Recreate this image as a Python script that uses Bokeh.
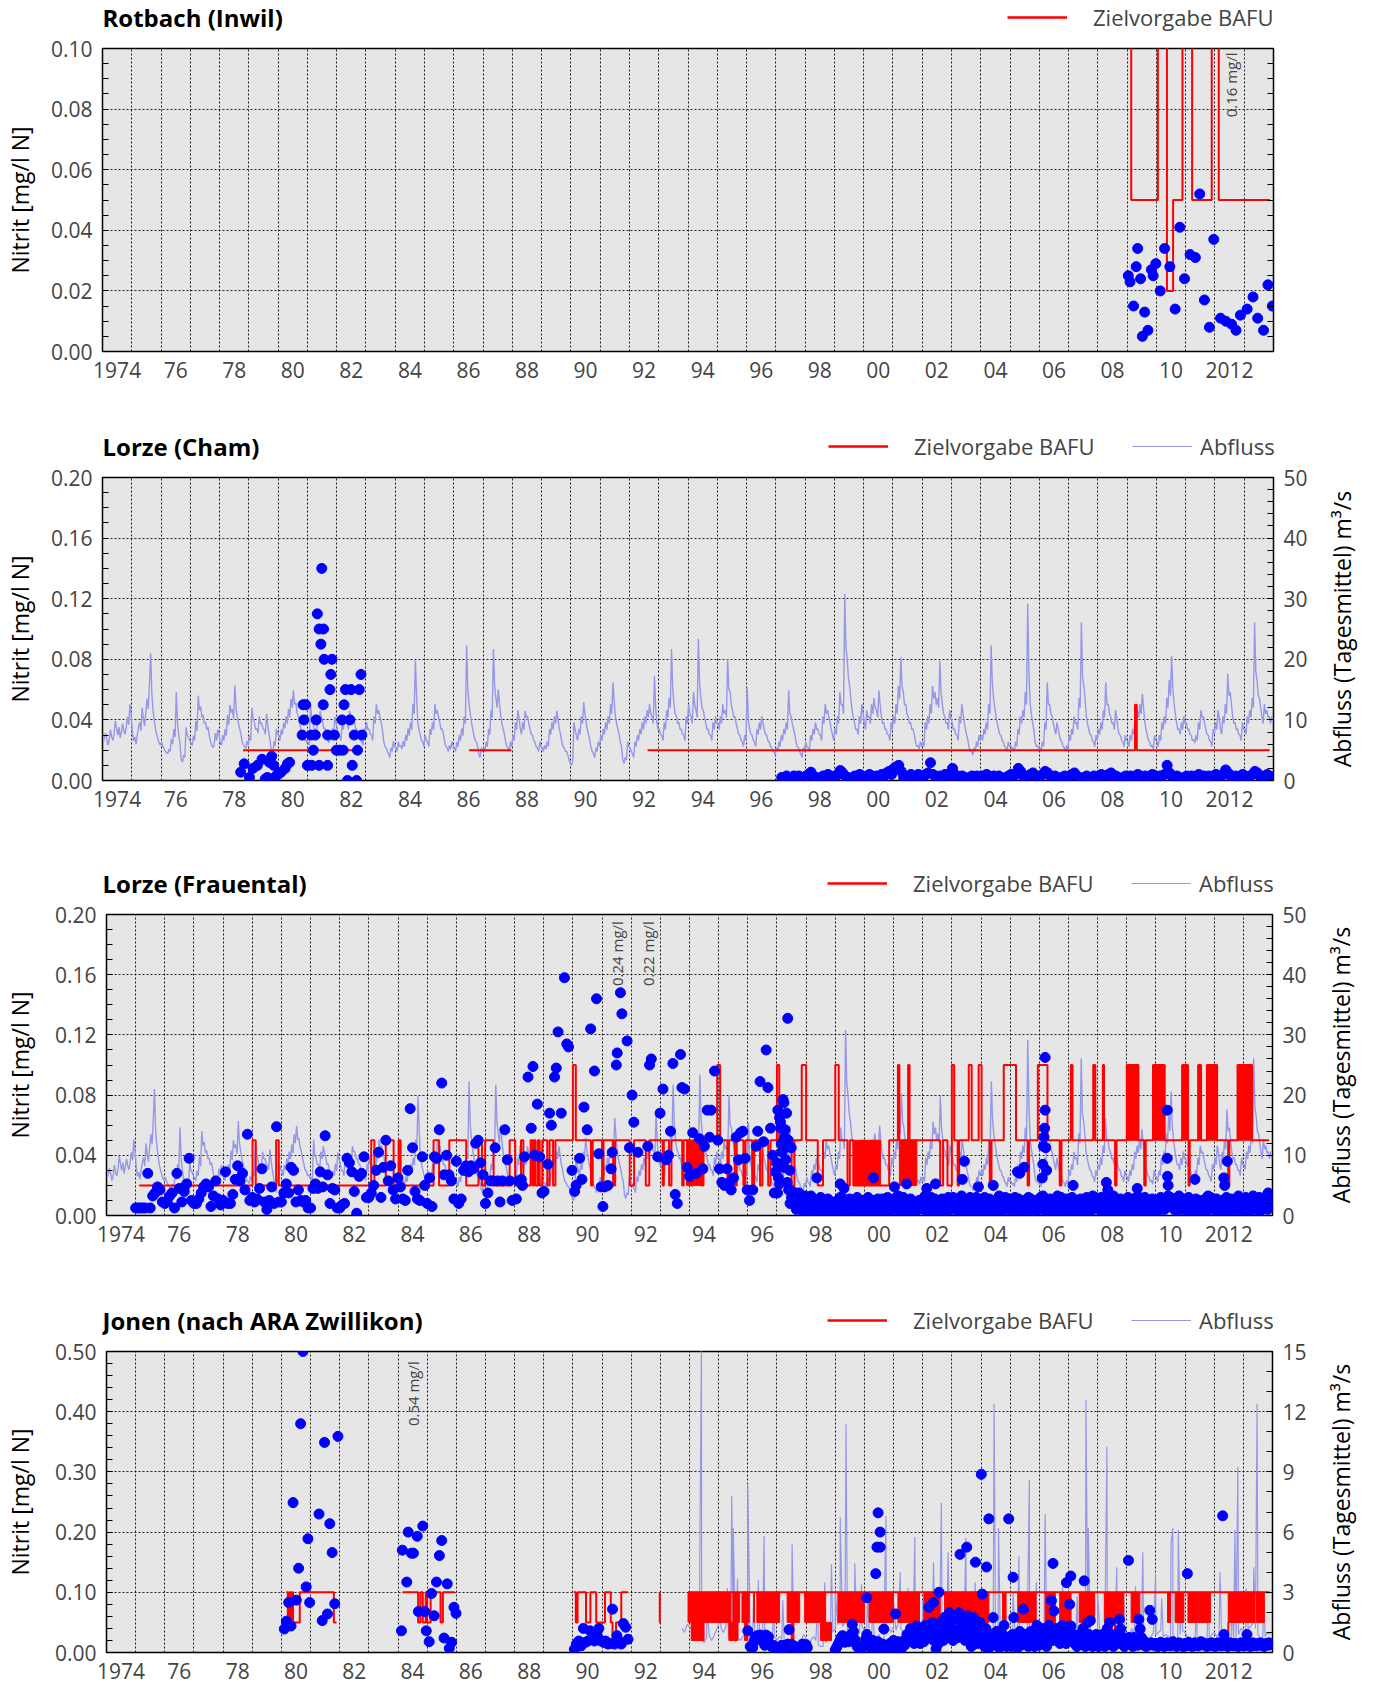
import math
import numpy as np
from bokeh.plotting import figure
from bokeh.layouts import column, row
from bokeh.models import (Range1d, LinearAxis, FixedTicker, NumeralTickFormatter,
                          Legend, LegendItem, Label)
from bokeh.embed import file_html
from bokeh.resources import INLINE

nan = float("nan")

# ------------------------------------------------------------------ axes / labels
YEAR_POS = [1974.5 + 2 * i for i in range(20)]
YEAR_LABELS = ["1974", "76", "78", "80", "82", "84", "86", "88", "90", "92",
               "94", "96", "98", "00", "02", "04", "06", "08", "10", "2012"]
GRID_YEARS = list(range(1975, 2014))

# ------------------------------------------------------------------ Panel 1: Rotbach (Inwil)
rot_t = [2009.04, 2009.10, 2009.22, 2009.31, 2009.36, 2009.46, 2009.52, 2009.60, 2009.71,
         2009.83, 2009.89, 2009.98, 2010.13, 2010.28, 2010.46, 2010.64, 2010.80, 2010.96,
         2011.15, 2011.33, 2011.48, 2011.64, 2011.81, 2011.96, 2012.19, 2012.37, 2012.57,
         2012.72, 2012.87, 2013.10, 2013.30, 2013.46, 2013.66, 2013.81, 2013.96]
rot_v = [0.025, 0.023, 0.015, 0.028, 0.034, 0.024, 0.005, 0.013, 0.007, 0.027, 0.025,
         0.029, 0.020, 0.034, 0.028, 0.014, 0.041, 0.024, 0.032, 0.031, 0.052, 0.017,
         0.008, 0.037, 0.011, 0.010, 0.009, 0.007, 0.012, 0.014, 0.018, 0.011, 0.007,
         0.022, 0.015]
rot_z_t = [2009.12, 2009.14, 2010.05, 2010.36, 2010.57, 2010.89, 2011.22, 2011.89, 2012.13, 2013.88]
rot_z_v = [0.16, 0.05, 0.16, 0.02, 0.05, 0.16, 0.05, 0.16, 0.05, 0.05]

# ------------------------------------------------------------------ Abfluss Lorze (half-monthly means, m3/s, 1974-2013)
lorze_q_rows = [
    [6.2, 7.0, 7.8, 6.9, 5.8, 6.6, 8.4, 7.2, 6.6, 7.7, 9.9, 8.6, 7.5, 8.8, 7.0, 8.1, 9.4, 8.2, 7.6, 8.9, 10.5, 9.2, 12.6, 10.8],
    [8.0, 6.5, 7.2, 6.0, 7.5, 8.8, 9.6, 8.2, 12.0, 10.2, 9.0, 11.2, 13.5, 11.8, 16.0, 21.0, 14.0, 11.5, 9.8, 8.4, 7.5, 6.8, 6.2, 5.8],
    [6.4, 5.6, 5.2, 4.8, 4.6, 4.4, 5.2, 4.8, 6.8, 6.0, 8.5, 7.2, 14.6, 9.5, 7.5, 6.2, 3.5, 3.0, 4.2, 3.8, 8.8, 7.5, 7.2, 6.6],
    [6.2, 5.8, 7.4, 6.6, 9.8, 8.2, 14.0, 11.6, 12.2, 10.4, 10.8, 9.4, 9.6, 8.4, 8.8, 7.5, 6.4, 5.8, 5.4, 5.9, 7.8, 6.6, 8.4, 7.6],
    [6.3, 5.8, 7.5, 6.6, 8.5, 7.4, 10.8, 9.2, 12.5, 11.2, 11.8, 10.2, 15.7, 12.0, 10.6, 9.4, 8.5, 7.6, 6.4, 5.8, 5.6, 5.3, 6.5, 5.8],
    [7.4, 6.6, 12.0, 10.2, 9.6, 8.4, 8.6, 7.8, 10.6, 9.4, 9.5, 8.6, 8.4, 7.6, 11.0, 9.2, 7.6, 6.5, 4.4, 3.8, 6.4, 5.7, 8.5, 7.6],
    [7.5, 6.6, 8.4, 7.6, 9.5, 8.6, 10.6, 9.4, 11.8, 10.4, 13.5, 12.0, 14.9, 12.6, 12.8, 11.2, 10.6, 9.4, 8.6, 7.5, 7.4, 6.6, 6.8, 6.2],
    [6.4, 5.8, 12.6, 10.0, 9.6, 8.4, 8.5, 7.6, 10.6, 9.4, 11.5, 10.4, 9.6, 8.5, 8.6, 7.5, 7.0, 6.2, 7.4, 6.6, 8.6, 7.4, 10.5, 9.4],
    [8.6, 7.5, 7.4, 6.6, 9.6, 8.4, 10.5, 9.4, 9.6, 8.4, 11.5, 10.6, 10.6, 9.4, 9.5, 8.6, 8.5, 7.6, 7.5, 6.6, 6.4, 5.8, 8.6, 7.4],
    [9.6, 8.4, 8.5, 7.6, 7.5, 6.6, 10.6, 9.4, 12.6, 11.0, 11.6, 10.4, 9.6, 8.4, 6.5, 5.6, 5.4, 4.8, 4.4, 3.8, 5.4, 4.8, 6.5, 5.6],
    [5.4, 4.8, 6.4, 5.6, 5.8, 5.2, 6.5, 5.6, 7.5, 6.6, 8.6, 7.4, 9.6, 8.4, 12.6, 11.0, 19.8, 14.0, 9.6, 8.4, 7.5, 6.6, 6.4, 5.6],
    [7.5, 6.6, 6.4, 5.6, 8.5, 7.6, 9.6, 8.4, 12.6, 11.0, 11.6, 10.4, 9.6, 8.4, 8.5, 7.6, 6.4, 5.6, 5.4, 4.8, 5.8, 5.2, 6.4, 5.6],
    [5.4, 4.8, 6.4, 5.6, 7.5, 6.6, 8.6, 7.4, 10.6, 9.4, 22.3, 15.0, 12.6, 11.0, 9.6, 8.4, 7.5, 6.6, 6.4, 5.6, 4.4, 3.8, 5.4, 4.8],
    [5.4, 4.8, 6.4, 5.6, 8.5, 7.6, 11.6, 10.4, 21.7, 15.5, 13.6, 12.0, 15.0, 12.5, 10.6, 9.4, 8.5, 7.6, 6.4, 5.6, 5.4, 4.8, 6.4, 5.6],
    [7.5, 6.6, 9.6, 8.4, 11.6, 10.4, 8.5, 7.6, 9.6, 8.4, 11.5, 10.4, 10.6, 9.4, 8.5, 7.6, 7.5, 6.6, 6.4, 5.6, 5.4, 4.8, 6.4, 5.6],
    [5.4, 4.8, 5.8, 5.2, 6.4, 5.6, 8.5, 7.6, 9.6, 8.4, 10.6, 9.4, 11.5, 10.0, 8.5, 7.6, 6.4, 5.6, 5.4, 4.8, 4.8, 4.2, 3.4, 2.8],
    [2.5, 3.2, 9.6, 8.4, 7.5, 6.6, 8.5, 7.6, 10.6, 9.4, 12.9, 11.0, 9.6, 8.4, 7.5, 6.6, 5.4, 4.8, 4.4, 3.8, 5.4, 4.8, 6.4, 5.6],
    [7.5, 6.6, 8.5, 7.6, 9.6, 8.4, 10.6, 9.4, 12.6, 11.0, 16.2, 13.0, 10.6, 9.4, 8.5, 7.6, 6.4, 5.6, 3.4, 2.8, 3.8, 3.4, 6.4, 5.6],
    [5.4, 4.8, 4.4, 3.8, 6.4, 5.6, 7.5, 6.6, 8.5, 7.6, 9.6, 8.4, 10.6, 9.4, 11.6, 10.4, 12.6, 11.0, 10.6, 9.4, 17.3, 12.0, 9.6, 8.4],
    [8.5, 7.6, 7.5, 6.6, 9.6, 8.4, 11.6, 10.4, 13.6, 12.0, 21.7, 15.0, 12.6, 11.0, 10.6, 9.4, 9.6, 8.4, 8.5, 7.6, 7.5, 6.6, 10.6, 9.4],
    [12.6, 11.0, 10.6, 9.4, 14.6, 12.5, 11.6, 10.4, 23.4, 16.0, 13.6, 12.0, 11.6, 10.4, 9.6, 8.4, 8.5, 7.6, 7.5, 6.6, 9.6, 8.4, 10.6, 9.4],
    [9.6, 8.4, 10.6, 9.4, 12.6, 11.0, 11.6, 10.4, 20.0, 15.0, 14.6, 12.5, 11.6, 10.4, 10.6, 9.4, 8.5, 7.6, 7.5, 6.6, 6.4, 5.6, 7.5, 6.6],
    [15.4, 10.0, 8.5, 7.6, 7.5, 6.6, 6.4, 5.6, 8.5, 7.6, 9.6, 8.4, 10.6, 9.4, 8.5, 7.6, 7.5, 6.6, 6.4, 5.6, 5.4, 4.8, 4.8, 4.2],
    [5.4, 4.8, 6.4, 5.6, 7.5, 6.6, 8.5, 7.6, 9.6, 8.4, 14.9, 11.0, 10.6, 9.4, 8.5, 7.6, 6.4, 5.6, 5.4, 4.8, 4.4, 3.8, 5.4, 4.8],
    [6.4, 5.6, 5.4, 4.8, 7.5, 6.6, 8.5, 7.6, 9.6, 8.4, 8.5, 7.6, 7.5, 6.6, 10.6, 9.4, 12.6, 11.0, 11.6, 10.4, 9.6, 8.4, 7.5, 6.6],
    [8.5, 7.6, 10.6, 9.4, 14.6, 12.5, 12.6, 11.0, 30.8, 22.0, 20.0, 17.0, 15.6, 13.5, 11.6, 10.4, 9.6, 8.4, 8.5, 7.6, 10.6, 9.4, 12.6, 11.0],
    [9.6, 8.4, 11.6, 10.4, 10.6, 9.4, 12.6, 11.0, 13.6, 12.0, 11.6, 10.4, 14.9, 12.5, 10.6, 9.4, 9.6, 8.4, 8.5, 7.6, 7.5, 6.6, 9.6, 8.4],
    [10.6, 9.4, 12.6, 11.0, 15.6, 13.5, 20.3, 15.5, 14.6, 12.5, 12.6, 11.0, 10.6, 9.4, 9.6, 8.4, 8.5, 7.6, 6.4, 5.6, 5.8, 5.2, 6.4, 5.6],
    [6.4, 5.6, 9.6, 8.4, 10.6, 9.4, 12.6, 11.0, 15.6, 13.5, 14.6, 12.5, 13.6, 12.0, 19.8, 14.5, 12.6, 11.0, 10.6, 9.4, 9.6, 8.4, 11.6, 10.4],
    [9.6, 8.4, 8.5, 7.6, 7.5, 6.6, 10.6, 9.4, 12.6, 11.0, 9.6, 8.4, 7.5, 6.6, 5.4, 4.8, 4.8, 4.2, 5.4, 4.8, 6.4, 5.6, 7.5, 6.6],
    [7.5, 6.6, 8.5, 7.6, 9.6, 8.4, 12.6, 11.0, 22.3, 16.0, 13.6, 12.0, 10.6, 9.4, 8.5, 7.6, 7.5, 6.6, 6.4, 5.6, 5.4, 4.8, 6.4, 5.6],
    [5.8, 5.2, 5.4, 4.8, 6.4, 5.6, 8.5, 7.6, 10.6, 9.4, 11.6, 10.4, 14.6, 12.5, 29.2, 18.0, 12.6, 11.0, 9.6, 8.4, 6.4, 5.6, 5.8, 5.2],
    [5.4, 4.8, 6.4, 5.6, 9.6, 8.4, 16.2, 12.5, 12.6, 11.0, 10.6, 9.4, 8.5, 7.6, 9.6, 8.4, 7.5, 6.6, 6.4, 5.6, 5.4, 4.8, 5.8, 5.2],
    [7.5, 6.6, 8.5, 7.6, 10.6, 9.4, 9.6, 8.4, 13.6, 12.0, 26.1, 17.0, 15.6, 13.5, 10.6, 9.4, 8.5, 7.6, 7.5, 6.6, 6.4, 5.6, 7.5, 6.6],
    [8.5, 7.6, 9.6, 8.4, 11.6, 10.4, 16.2, 12.5, 12.6, 11.0, 10.6, 9.4, 9.6, 8.4, 11.6, 10.4, 8.5, 7.6, 7.5, 6.6, 6.4, 5.6, 7.5, 6.6],
    [6.4, 5.6, 7.5, 6.6, 8.5, 7.6, 10.6, 9.4, 11.6, 10.4, 12.6, 11.0, 14.3, 12.0, 9.6, 8.4, 7.5, 6.6, 6.4, 5.6, 5.8, 5.2, 7.5, 6.6],
    [6.4, 5.6, 7.5, 6.6, 9.6, 8.4, 10.6, 9.4, 13.6, 12.0, 16.6, 14.0, 20.6, 15.0, 12.6, 11.0, 9.6, 8.4, 8.5, 7.6, 9.6, 8.4, 10.6, 9.4],
    [9.6, 8.4, 8.5, 7.6, 7.5, 6.6, 6.8, 6.2, 7.5, 6.6, 9.6, 8.4, 11.6, 10.4, 10.6, 9.4, 8.5, 7.6, 7.5, 6.6, 6.4, 5.6, 8.5, 7.6],
    [9.6, 8.4, 11.6, 10.4, 8.5, 7.6, 10.6, 9.4, 12.6, 11.0, 17.6, 14.0, 14.6, 12.5, 10.6, 9.4, 9.6, 8.4, 8.5, 7.6, 7.5, 6.6, 9.6, 8.4],
    [8.5, 7.6, 10.6, 9.4, 11.6, 10.4, 13.6, 12.0, 26.1, 18.0, 16.6, 14.0, 13.6, 12.0, 10.6, 9.4, 12.6, 11.0, 11.6, 10.4, 10.6, 9.4, 10.6, 9.4],
]

# ------------------------------------------------------------------ Panel 2: Lorze (Cham)
cham_t1 = [1978.72, 1978.84, 1979.02, 1979.14, 1979.29, 1979.45, 1979.56, 1979.63, 1979.70,
           1979.78, 1979.85, 1979.93, 1980.00, 1980.10, 1980.24, 1980.32, 1980.39, 1980.82,
           1980.85, 1980.88, 1980.94, 1981.00, 1981.13, 1981.15, 1981.20, 1981.27, 1981.30,
           1981.34, 1981.40, 1981.40, 1981.46, 1981.49, 1981.54, 1981.55, 1981.57, 1981.69,
           1981.69, 1981.77, 1981.80, 1981.84, 1981.92, 1981.99, 1982.10, 1982.18, 1982.22,
           1982.25, 1982.30, 1982.37, 1982.45, 1982.49, 1982.53, 1982.60, 1982.68, 1982.71,
           1982.77, 1982.83, 1982.86]
cham_v1 = [0.0055, 0.011, 0.002, 0.008, 0.010, 0.014, 0.001, 0.002, 0.012, 0.016, 0.010,
           0.003, 0.004, 0.0055, 0.008, 0.011, 0.012, 0.030, 0.050, 0.040, 0.050, 0.010,
           0.030, 0.010, 0.020, 0.030, 0.040, 0.110, 0.100, 0.010, 0.090, 0.140, 0.050,
           0.100, 0.080, 0.010, 0.030, 0.060, 0.070, 0.080, 0.030, 0.020, 0.020, 0.040,
           0.020, 0.050, 0.060, 0.000, 0.040, 0.060, 0.010, 0.030, 0.000, 0.020, 0.060,
           0.070, 0.030]
cham_v2_rows = [  # monthly from 1997.2
    [0.002, 0.001, 0.003, 0.002, 0.001, 0.003, 0.002, 0.003, 0.002, 0.001, 0.003, 0.004],
    [0.0055, 0.003, 0.002, 0.001, 0.002, 0.003, 0.002, 0.004, 0.003, 0.002, 0.003, 0.004],
    [0.0066, 0.005, 0.003, 0.002, 0.001, 0.002, 0.003, 0.002, 0.004, 0.003, 0.002, 0.003],
    [0.004, 0.003, 0.002, 0.003, 0.002, 0.004, 0.003, 0.005, 0.006, 0.004, 0.008, 0.009],
    [0.010, 0.006, 0.002, 0.001, 0.003, 0.004, 0.002, 0.003, 0.004, 0.003, 0.002, 0.004],
    [0.005, 0.0117, 0.004, 0.003, 0.002, 0.003, 0.002, 0.004, 0.003, 0.002, 0.008, 0.004],
    [0.003, 0.002, 0.003, 0.002, 0.001, 0.002, 0.003, 0.002, 0.003, 0.002, 0.003, 0.002],
    [0.004, 0.003, 0.002, 0.003, 0.002, 0.003, 0.002, 0.001, 0.002, 0.003, 0.004, 0.003],
    [0.004, 0.008, 0.006, 0.003, 0.002, 0.003, 0.004, 0.005, 0.003, 0.002, 0.003, 0.004],
    [0.006, 0.005, 0.003, 0.002, 0.003, 0.002, 0.001, 0.002, 0.003, 0.002, 0.003, 0.004],
    [0.005, 0.003, 0.002, 0.001, 0.002, 0.003, 0.002, 0.002, 0.003, 0.002, 0.003, 0.004],
    [0.003, 0.002, 0.004, 0.005, 0.002, 0.003, 0.002, 0.001, 0.002, 0.003, 0.002, 0.003],
    [0.002, 0.003, 0.004, 0.003, 0.002, 0.003, 0.002, 0.003, 0.004, 0.003, 0.002, 0.003],
    [0.003, 0.004, 0.010, 0.005, 0.003, 0.002, 0.003, 0.002, 0.001, 0.002, 0.003, 0.002],
    [0.003, 0.002, 0.003, 0.004, 0.002, 0.003, 0.002, 0.003, 0.002, 0.003, 0.004, 0.003],
    [0.003, 0.004, 0.007, 0.005, 0.003, 0.002, 0.003, 0.002, 0.003, 0.004, 0.003, 0.002],
    [0.003, 0.004, 0.006, 0.005, 0.003, 0.002, 0.003, 0.004, 0.003, 0.002],
]
cham_z_segments = [
    ([1978.80, 1982.86], [0.02, 0.02]),
    ([1986.52, 1987.97], [0.02, 0.02]),
    ([1992.62, 2009.27, 2009.33, 2013.87], [0.02, 0.05, 0.02, 0.02]),
]

# ------------------------------------------------------------------ Panel 3: Lorze (Frauental)
frau_v1_rows = [  # monthly 1975-1987
    [0.005, 0.005, 0.005, 0.005, 0.005, 0.028, 0.005, 0.013, 0.015, 0.019, 0.017, 0.009],
    [0.008, 0.009, 0.013, 0.015, 0.005, 0.028, 0.018, 0.009, 0.016, 0.021, 0.038, 0.010],
    [0.008, 0.008, 0.011, 0.015, 0.019, 0.021, 0.019, 0.006, 0.013, 0.023, 0.011, 0.007],
    [0.010, 0.029, 0.008, 0.008, 0.014, 0.024, 0.033, 0.023, 0.028, 0.017, 0.054, 0.010],
    [0.012, 0.009, 0.011, 0.018, 0.031, 0.009, 0.004, 0.010, 0.019, 0.008, 0.059, 0.009],
    [0.009, 0.015, 0.021, 0.015, 0.032, 0.030, 0.009, 0.017, 0.010, 0.009, 0.010, 0.005],
    [0.005, 0.018, 0.021, 0.018, 0.029, 0.019, 0.053, 0.027, 0.008, 0.018, 0.017, 0.005],
    [0.005, 0.007, 0.008, 0.038, 0.035, 0.029, 0.016, 0.0015, 0.026, 0.028, 0.039, 0.012],
    [0.012, 0.015, 0.020, 0.030, 0.042, 0.012, 0.032, 0.050, 0.023, 0.033, 0.017, 0.011],
    [0.025, 0.019, 0.011, 0.010, 0.030, 0.071, 0.045, 0.016, 0.011, 0.010, 0.039, 0.020],
    [0.008, 0.025, 0.006, 0.039, 0.038, 0.057, 0.088, 0.027, 0.040, 0.027, 0.023, 0.011],
    [0.036, 0.008, 0.011, 0.030, 0.033, 0.029, 0.033, 0.031, 0.048, 0.050, 0.035, 0.027],
    [0.008, 0.015, 0.023, 0.023, 0.045, 0.023, 0.009, 0.023, 0.057, 0.037, 0.023, 0.010],
]
frau_t2 = [1988.06, 1988.12, 1988.23, 1988.27, 1988.34, 1988.46, 1988.57, 1988.63, 1988.69,
           1988.78, 1988.86, 1988.94, 1989.01, 1989.14, 1989.20, 1989.26, 1989.37, 1989.43,
           1989.49, 1989.60, 1989.71, 1989.79, 1989.85, 1989.97, 1990.06, 1990.11, 1990.23,
           1990.31, 1990.38, 1990.49, 1990.61, 1990.74, 1990.81, 1990.89, 1990.97, 1991.03,
           1991.09, 1991.20, 1991.31, 1991.35, 1991.49, 1991.52, 1991.58, 1991.63, 1991.68,
           1991.86, 1991.94, 1992.03, 1992.09, 1992.23, 1992.38, 1992.57, 1992.63, 1992.69,
           1992.91, 1992.99, 1993.09, 1993.20, 1993.28, 1993.35, 1993.43, 1993.51, 1993.58,
           1993.69, 1993.74, 1993.83, 1993.92, 1994.00, 1994.11, 1994.23, 1994.34, 1994.46,
           1994.51, 1994.61, 1994.69, 1994.74, 1994.86, 1994.97, 1995.03, 1995.11, 1995.20,
           1995.29, 1995.37, 1995.43, 1995.51, 1995.60, 1995.68, 1995.75, 1995.83, 1995.91,
           1995.98, 1996.06, 1996.17, 1996.29, 1996.34, 1996.42, 1996.54, 1996.63, 1996.69,
           1996.78, 1996.86, 1996.91, 1996.95, 1996.99, 1997.02, 1997.03, 1997.05, 1997.09,
           1997.09, 1997.12, 1997.14, 1997.15, 1997.18, 1997.20, 1997.21, 1997.23, 1997.24,
           1997.27, 1997.28, 1997.30, 1997.33, 1997.35, 1997.37, 1997.39, 1997.40, 1997.44,
           1997.45, 1997.49]
frau_v2 = [0.011, 0.023, 0.024, 0.020, 0.039, 0.092, 0.058, 0.099, 0.040, 0.074, 0.039,
           0.015, 0.016, 0.034, 0.068, 0.060, 0.092, 0.098, 0.122, 0.068, 0.158, 0.114,
           0.112, 0.030, 0.016, 0.020, 0.038, 0.024, 0.072, 0.057, 0.124, 0.096, 0.144,
           0.041, 0.019, 0.006, 0.019, 0.020, 0.031, 0.042, 0.100, 0.108, 0.240, 0.148,
           0.134, 0.116, 0.045, 0.080, 0.062, 0.042, 0.220, 0.046, 0.100, 0.104, 0.039,
           0.068, 0.084, 0.037, 0.040, 0.056, 0.101, 0.014, 0.008, 0.107, 0.085, 0.084,
           0.032, 0.026, 0.055, 0.028, 0.051, 0.031, 0.046, 0.070, 0.052, 0.070, 0.096,
           0.050, 0.031, 0.022, 0.020, 0.031, 0.022, 0.017, 0.025, 0.052, 0.037, 0.055,
           0.056, 0.038, 0.017, 0.010, 0.017, 0.046, 0.056, 0.089, 0.049, 0.110, 0.085,
           0.058, 0.040, 0.015, 0.029, 0.035, 0.015, 0.070, 0.025, 0.065, 0.021, 0.062,
           0.058, 0.048, 0.042, 0.044, 0.077, 0.032, 0.075, 0.052, 0.057, 0.037, 0.068,
           0.022, 0.131, 0.050, 0.017, 0.030, 0.008, 0.045]
frau_v3_rows = [  # half-monthly from 1997.5
    [0.012, 0.016, 0.008, 0.013, 0.004, 0.010, 0.015, 0.006, 0.011, 0.003, 0.009, 0.013],
    [0.006, 0.011, 0.003, 0.008, 0.013, 0.002, 0.007, 0.010, 0.004, 0.009, 0.001, 0.006,
     0.012, 0.004, 0.008, 0.010, 0.003, 0.007, 0.011, 0.002, 0.006, 0.009, 0.004, 0.008],
    [0.007, 0.002, 0.010, 0.005, 0.012, 0.008, 0.003, 0.011, 0.006, 0.001, 0.009, 0.004,
     0.011, 0.002, 0.007, 0.010, 0.003, 0.006, 0.012, 0.005, 0.001, 0.008, 0.004, 0.010],
    [0.006, 0.003, 0.009, 0.012, 0.005, 0.010, 0.008, 0.002, 0.010, 0.004, 0.007, 0.011,
     0.003, 0.009, 0.005, 0.011, 0.002, 0.008, 0.004, 0.012, 0.006, 0.003, 0.009, 0.005],
    [0.010, 0.004, 0.012, 0.008, 0.013, 0.003, 0.009, 0.005, 0.012, 0.002, 0.007, 0.010,
     0.004, 0.008, 0.011, 0.003, 0.006, 0.009, 0.002, 0.007, 0.004, 0.010, 0.005, 0.008],
    [0.011, 0.004, 0.013, 0.007, 0.002, 0.009, 0.005, 0.012, 0.003, 0.008, 0.011, 0.006,
     0.010, 0.004, 0.008, 0.002, 0.011, 0.005, 0.009, 0.003, 0.007, 0.012, 0.004, 0.009],
    [0.008, 0.012, 0.004, 0.010, 0.011, 0.006, 0.002, 0.009, 0.013, 0.005, 0.011, 0.008,
     0.003, 0.010, 0.006, 0.012, 0.004, 0.008, 0.002, 0.009, 0.012, 0.005, 0.011, 0.007],
    [0.003, 0.010, 0.006, 0.012, 0.004, 0.008, 0.002, 0.011, 0.005, 0.009, 0.003, 0.007,
     0.010, 0.004, 0.008, 0.013, 0.006, 0.002, 0.011, 0.009, 0.012, 0.005, 0.008, 0.004],
    [0.011, 0.004, 0.010, 0.006, 0.012, 0.003, 0.008, 0.011, 0.005, 0.009, 0.002, 0.007,
     0.010, 0.004, 0.008, 0.012, 0.006, 0.011, 0.003, 0.006, 0.009, 0.003, 0.010, 0.005],
    [0.008, 0.012, 0.004, 0.013, 0.007, 0.010, 0.003, 0.009, 0.005, 0.011, 0.002, 0.008,
     0.004, 0.010, 0.006, 0.013, 0.003, 0.008, 0.012, 0.005, 0.009, 0.002, 0.007, 0.011],
    [0.004, 0.009, 0.006, 0.012, 0.003, 0.008, 0.005, 0.010, 0.002, 0.007, 0.011, 0.004,
     0.009, 0.003, 0.008, 0.012, 0.005, 0.010, 0.002, 0.007, 0.013, 0.011, 0.012, 0.006],
    [0.010, 0.004, 0.008, 0.012, 0.003, 0.009, 0.006, 0.011, 0.004, 0.008, 0.002, 0.010,
     0.005, 0.013, 0.012, 0.007, 0.003, 0.009, 0.005, 0.011, 0.002, 0.008, 0.004, 0.010],
    [0.006, 0.012, 0.003, 0.009, 0.005, 0.011, 0.002, 0.008, 0.004, 0.013, 0.007, 0.010,
     0.003, 0.009, 0.006, 0.012, 0.004, 0.008, 0.002, 0.010, 0.005, 0.011, 0.003, 0.008],
    [0.006, 0.010, 0.003, 0.008, 0.012, 0.005, 0.009, 0.004, 0.011, 0.006, 0.013, 0.009,
     0.012, 0.008, 0.007, 0.004, 0.008, 0.003, 0.010, 0.013, 0.006, 0.009, 0.004, 0.011],
    [0.005, 0.009, 0.003, 0.012, 0.006, 0.010, 0.002, 0.008, 0.004, 0.011, 0.005, 0.009,
     0.003, 0.007, 0.010, 0.004, 0.008, 0.002, 0.012, 0.013, 0.010, 0.012, 0.010, 0.006],
    [0.008, 0.003, 0.011, 0.005, 0.009, 0.002, 0.007, 0.010, 0.004, 0.008, 0.012, 0.003,
     0.009, 0.005, 0.011, 0.002, 0.007, 0.010, 0.004, 0.008, 0.013, 0.005, 0.009, 0.003],
    [0.010, 0.006, 0.012, 0.004, 0.008, 0.011, 0.003, 0.009, 0.013, 0.006, 0.010, 0.004,
     0.008, 0.012, 0.003, 0.009, 0.005, 0.011, 0.007, 0.013, 0.004, 0.008, 0.010, 0.006],
]
frau_out_t = [1998.37, 1999.17, 1999.30, 2000.31, 2001.03, 2001.45, 2002.14, 2002.44, 2003.36,
              2003.43, 2003.91, 2004.42, 2005.25, 2005.33, 2005.48, 2006.10, 2006.12, 2006.14,
              2006.16, 2006.18, 2006.20, 2006.20, 2006.22, 2006.25, 2007.16, 2008.30, 2008.35,
              2009.36, 2010.39, 2010.39, 2010.40, 2010.42, 2011.34, 2012.33, 2012.36, 2012.45,
              2013.85]
frau_out_v = [0.025, 0.021, 0.018, 0.025, 0.019, 0.021, 0.018, 0.021, 0.024, 0.036, 0.019,
              0.020, 0.029, 0.028, 0.032, 0.025, 0.034, 0.046, 0.052, 0.058, 0.070, 0.105,
              0.045, 0.030, 0.020, 0.022, 0.017, 0.018, 0.070, 0.038, 0.026, 0.020, 0.024,
              0.025, 0.020, 0.036, 0.015]
frau_z_t = [1975.12, 1979.01, 1979.12, 1979.82, 1979.91, 1983.08, 1983.19, 1983.58, 1983.85,
            1984.02, 1984.09, 1985.22, 1985.41, 1985.76, 1986.34, 1986.76, 1986.88, 1986.99,
            1987.28, 1987.83, 1988.02, 1988.22, 1988.30, 1988.55, 1988.62, 1988.66, 1988.72,
            1988.80, 1988.86, 1988.95, 1989.12, 1989.20, 1989.32, 1989.40, 1990.00, 1990.10,
            1990.62, 1990.68, 1991.00, 1991.05, 1991.38, 1991.45, 1991.95, 1992.10, 1992.50,
            1992.62, 1993.08, 1993.12, 1993.30, 1993.38, 1993.75, 1993.80, 1994.05, 1994.12,
            1994.40, 1994.48, 1994.95, 1995.05, 1995.30, 1995.35, 1995.55, 1995.62, 1995.85,
            1995.92, 1996.15, 1996.22, 1996.42, 1996.50, 1996.70, 1996.78, 1997.00, 1997.08,
            1997.50, 1997.60, 1997.85, 1998.00, 1998.40, 1998.58, 1999.00, 1999.12, 1999.42,
            1999.50, 1999.62, 2000.55, 2000.85, 2001.15, 2001.20, 2001.50, 2001.55, 2002.60,
            2002.70, 2002.85, 2003.00, 2003.08, 2003.20, 2003.25, 2003.58, 2003.68, 2003.92,
            2004.02, 2004.30, 2004.36, 2004.78, 2005.20, 2005.60, 2005.65, 2005.95, 2006.28,
            2006.70, 2006.76, 2007.08, 2007.14, 2007.85, 2007.92, 2008.18, 2008.22, 2008.60,
            2008.65, 2009.00, 2009.40, 2009.60, 2009.65, 2009.90, 2010.30, 2010.90, 2011.10,
            2011.12, 2011.16, 2011.45, 2011.55, 2011.75, 2012.10, 2012.48, 2012.52, 2012.80,
            2013.30, 2013.88]
frau_z_v = [0.02, 0.05, 0.02, 0.05, 0.02, 0.05, 0.02, 0.05, 0.02, 0.05, 0.02, 0.05, 0.02,
            0.05, 0.02, 0.05, 0.02, 0.05, 0.02, 0.05, 0.02, 0.05, 0.02, 0.05, 0.02, 0.05,
            0.02, 0.05, 0.02, 0.05, 0.02, 0.05, 0.02, 0.05, 0.10, 0.05, 0.02, 0.05, 0.02,
            0.05, 0.02, 0.05, 0.02, 0.05, 0.02, 0.05, 0.02, 0.05, 0.02, 0.05, 0.02, 0.05,
            0.02, 0.05, 0.02, 0.05, 0.10, 0.05, 0.02, 0.05, 0.02, 0.05, 0.02, 0.05, 0.02,
            0.05, 0.02, 0.05, 0.02, 0.05, 0.10, 0.05, 0.02, 0.05, 0.10, 0.05, 0.02, 0.05,
            0.10, 0.05, 0.02, 0.05, 0.02, 0.02, 0.05, 0.10, 0.05, 0.10, 0.05, 0.02, 0.05,
            0.02, 0.10, 0.05, 0.02, 0.05, 0.10, 0.05, 0.10, 0.05, 0.02, 0.05, 0.10, 0.05,
            0.02, 0.05, 0.10, 0.05, 0.02, 0.05, 0.10, 0.05, 0.10, 0.05, 0.10, 0.05, 0.02,
            0.05, 0.10, 0.05, 0.02, 0.05, 0.10, 0.05, 0.10, 0.05, 0.02, 0.05, 0.10, 0.05,
            0.10, 0.05, 0.02, 0.05, 0.10, 0.05, 0.05]
# periods in which the target switched almost daily: [start, end, low, high]
frau_band_l = [1993.90, 1999.65, 2001.20, 2009.00, 2009.90, 2010.90, 2011.45, 2011.75, 2012.80]
frau_band_r = [1994.45, 2000.55, 2001.80, 2009.40, 2010.30, 2011.10, 2011.55, 2012.10, 2013.30]
frau_band_lo = [0.02, 0.02, 0.02, 0.05, 0.05, 0.05, 0.05, 0.05, 0.05]
frau_band_hi = [0.05, 0.05, 0.05, 0.10, 0.10, 0.10, 0.10, 0.10, 0.10]

# ------------------------------------------------------------------ Panel 4: Jonen (nach ARA Zwillikon)
jon_t1 = [1980.10, 1980.17, 1980.25, 1980.33, 1980.40, 1980.51, 1980.59, 1980.66, 1980.74,
          1980.85, 1980.91, 1980.97, 1981.29, 1981.40, 1981.48, 1981.58, 1981.66, 1981.74,
          1981.83, 1981.94,
          1984.12, 1984.15, 1984.30, 1984.35, 1984.46, 1984.53, 1984.66, 1984.70, 1984.85,
          1984.92, 1984.97, 1985.07, 1985.15, 1985.24, 1985.32, 1985.42, 1985.50, 1985.58,
          1985.69, 1985.76, 1985.84, 1985.92, 1985.99,
          1990.05, 1990.12, 1990.20, 1990.28, 1990.36, 1990.43, 1990.51, 1990.59, 1990.66,
          1990.74, 1990.82, 1990.89, 1990.97, 1991.05, 1991.12, 1991.20, 1991.28, 1991.36,
          1991.43, 1991.51, 1991.58, 1991.66, 1991.73, 1991.81, 1991.89]
jon_v1 = [0.039, 0.052, 0.083, 0.044, 0.249, 0.087, 0.140, 0.380, 0.500, 0.109, 0.189,
          0.083, 0.230, 0.053, 0.349, 0.064, 0.214, 0.166, 0.081, 0.359,
          0.036, 0.170, 0.117, 0.200, 0.165, 0.165, 0.193, 0.068, 0.210, 0.068, 0.036,
          0.018, 0.098, 0.061, 0.117, 0.161, 0.186, 0.024, 0.114, 0.007, 0.017, 0.075,
          0.065,
          0.0055, 0.014, 0.019, 0.011, 0.040, 0.017, 0.019, 0.036, 0.022, 0.019, 0.030,
          0.040, 0.019, 0.017, 0.019, 0.014, 0.015, 0.072, 0.014, 0.028, 0.019, 0.014,
          0.048, 0.042, 0.022]
jon_v2_rows = [  # half-monthly from 1996.0
    [0.036, nan, 0.010, nan, 0.008, 0.018, 0.024, 0.026, 0.028, 0.022, 0.029, 0.020,
     0.025, 0.018, 0.012, 0.029, 0.022, 0.026, 0.014, 0.011, 0.009, 0.012, 0.010, 0.008],
    [0.009, 0.007, 0.008, 0.006, 0.012, 0.009, 0.006, 0.008, 0.011, 0.014, 0.038, 0.010,
     0.013, 0.008, 0.011, 0.009, 0.005, 0.008, 0.004, 0.007, 0.010, 0.014, 0.009, 0.012],
    [0.013, 0.008, nan, nan, nan, nan, nan, nan, nan, nan, nan, nan,
     nan, nan, nan, nan, nan, nan, nan, nan, nan, nan, nan, nan],
    [0.004, 0.008, 0.012, 0.016, 0.020, 0.025, 0.028, 0.022, 0.017, 0.024, 0.020, 0.018,
     0.026, 0.030, 0.047, 0.035, 0.022, 0.015, 0.010, 0.008, 0.006, 0.004, 0.007, 0.010],
    [0.012, 0.022, 0.030, 0.018, 0.012, 0.008, 0.015, 0.020, 0.010, 0.006, 0.012, 0.018,
     0.008, 0.004, 0.010, 0.014, 0.039, 0.012, 0.008, 0.005, 0.010, 0.015, 0.008, 0.012],
    [0.020, 0.010, 0.006, 0.012, 0.018, 0.008, 0.004, 0.010, 0.016, 0.012, 0.022, 0.030,
     0.018, 0.025, 0.040, 0.022, 0.030, 0.015, 0.028, 0.044, 0.020, 0.035, 0.015, 0.025],
    [0.030, 0.018, 0.045, 0.040, 0.035, 0.025, 0.045, 0.030, 0.050, 0.020, 0.038, 0.006,
     0.025, 0.015, 0.030, 0.045, 0.053, 0.020, 0.058, 0.035, 0.050, 0.025, 0.066, 0.030],
    [0.040, 0.020, 0.058, 0.030, 0.055, 0.025, 0.066, 0.040, 0.060, 0.030, 0.050, 0.020,
     0.035, 0.061, 0.025, 0.045, 0.010, 0.030, 0.058, 0.020, 0.040, 0.015, 0.035, 0.050],
    [0.025, 0.015, 0.030, 0.010, 0.040, 0.020, 0.006, 0.025, 0.015, 0.030, 0.058, 0.020,
     0.012, 0.035, 0.020, 0.008, 0.025, 0.015, 0.030, 0.045, 0.018, 0.010, 0.025, 0.015],
    [0.020, 0.010, 0.030, 0.058, 0.025, 0.015, 0.008, 0.020, 0.035, 0.012, 0.025, 0.072,
     0.030, 0.015, 0.025, 0.010, 0.020, 0.035, 0.015, 0.025, 0.010, 0.030, 0.045, 0.020],
    [0.012, 0.025, 0.040, 0.015, 0.030, 0.020, 0.010, 0.030, 0.045, 0.025, 0.086, 0.020,
     0.069, 0.030, 0.040, 0.020, 0.030, 0.015, 0.025, 0.045, 0.030, 0.030, 0.015, 0.025],
    [0.030, 0.080, 0.044, 0.020, 0.030, 0.015, 0.025, 0.010, 0.020, 0.030, 0.015, 0.025,
     0.040, 0.020, 0.010, 0.025, 0.050, 0.030, 0.053, 0.020, 0.010, 0.025, 0.015, 0.030],
    [0.020, 0.010, 0.025, 0.015, 0.030, 0.020, 0.010, 0.025, 0.040, 0.020, 0.050, 0.030,
     0.015, 0.010, 0.020, 0.030, 0.015, 0.025, 0.055, 0.039, 0.015, 0.025, 0.010, 0.020],
    [0.020, 0.015, 0.025, 0.015, 0.020, 0.010, 0.025, 0.015, 0.020, 0.012, 0.055, 0.039,
     0.025, 0.015, 0.012, 0.018, 0.010, 0.015, 0.012, 0.070, 0.016, 0.055, 0.012, 0.015],
    [0.012, 0.015, 0.010, 0.014, 0.017, 0.012, 0.015, 0.010, 0.013, 0.016, 0.012, 0.015,
     0.011, 0.014, 0.018, 0.013, 0.015, 0.010, 0.013, 0.016, 0.012, 0.014, 0.010, 0.013],
    [0.015, 0.011, 0.014, 0.017, 0.012, 0.015, 0.010, 0.013, 0.016, 0.012, 0.014, 0.011,
     0.015, 0.018, 0.013, 0.016, 0.012, 0.014, 0.010, 0.013, 0.015, 0.012, 0.016, 0.011],
    [0.014, 0.010, 0.013, 0.016, 0.012, 0.015, 0.011, 0.014, 0.030, 0.012, 0.015, 0.010,
     0.013, 0.016, 0.012, 0.014, 0.011, 0.015, 0.012, 0.014, 0.010, 0.013, 0.016, 0.012],
    [0.015, 0.011, 0.014, 0.030, 0.012, 0.015, 0.010, 0.013, 0.016, 0.012, 0.014, 0.011,
     0.015, 0.013, 0.016, 0.012, 0.014, 0.010, 0.013, 0.015, 0.012, 0.016, 0.013, 0.014],
]
jon_out_t = [2000.08, 2000.39, 2000.43, 2000.47, 2000.54, 2000.54, 2001.07, 2002.21, 2002.37,
             2002.56, 2003.28, 2003.51, 2003.81, 2004.01, 2004.04, 2004.19, 2004.27, 2004.95,
             2005.10, 2006.47, 2006.93, 2007.08, 2007.54, 2009.06, 2011.08, 2012.29]
jon_out_v = [0.091, 0.131, 0.175, 0.232, 0.200, 0.175, 0.064, 0.075, 0.083, 0.100, 0.163,
             0.175, 0.150, 0.296, 0.097, 0.142, 0.222, 0.222, 0.125, 0.148, 0.116, 0.127,
             0.119, 0.153, 0.131, 0.227]
jon_z_segments = [
    ([1980.17, 1980.22, 1980.26, 1980.30, 1980.34, 1980.40, 1980.63, 1981.80, 1981.89],
     [0.10, 0.05, 0.10, 0.05, 0.10, 0.05, 0.10, 0.05, 0.05]),
    ([1984.16, 1984.69, 1984.77, 1984.85, 1984.95, 1985.00, 1985.12, 1985.46, 1985.54, 1985.95],
     [0.10, 0.05, 0.10, 0.05, 0.10, 0.05, 0.10, 0.05, 0.10, 0.10]),
    ([1990.03, 1990.10, 1990.16, 1990.45, 1990.60, 1990.80, 1991.10, 1991.30, 1991.36, 1991.48,
      1991.66, 1991.89],
     [0.10, 0.05, 0.10, 0.05, 0.10, 0.05, 0.10, 0.05, 0.025, 0.05, 0.10, 0.10]),
    ([1992.96, 1992.98], [0.05, 0.10]),
    ([1993.95, 2013.90], [0.10, 0.10]),
]
jon_band_l = [1993.95, 1995.49, 1995.80, 1996.20, 1996.31, 1997.35, 1997.95, 1999.09, 2000.16,
              2001.15, 2002.04, 2002.75, 2004.74, 2005.26, 2006.20, 2006.70, 2007.37, 2008.23,
              2009.15, 2010.40, 2010.66, 2011.10, 2011.45, 2012.48, 2013.45]
jon_band_r = [1995.42, 1995.72, 1996.05, 1996.23, 1997.09, 1997.78, 1998.67, 2000.00, 2001.00,
              2001.89, 2002.60, 2004.27, 2004.86, 2005.89, 2006.55, 2007.09, 2007.90, 2008.90,
              2009.45, 2010.50, 2010.96, 2011.43, 2011.87, 2013.40, 2013.72]
jon_dip_l = [1994.06, 1995.35, 1995.89, 1997.49, 1998.49, 2002.73, 2004.80, 2008.58, 2012.47]
jon_dip_r = [1994.50, 1995.66, 1996.00, 1997.58, 1998.87, 2002.76, 2004.83, 2008.61, 2012.50]

# Abfluss Jonen: monthly base flow from 1993.75 plus single-day flood peaks
jon_q_rows = [
    [1.2, 1.0, 1.4],
    [1.3, 1.1, 1.5, 1.0, 0.8, 0.6, 0.5, 0.7, 0.9, 0.6, 0.8, 1.1],
    [1.4, 1.2, 1.0, 1.3, 0.9, 0.8, 0.6, 0.5, 0.7, 0.6, 0.8, 1.0],
    [0.9, 0.7, 0.6, 0.8, 0.7, 0.5, 0.4, 0.4, 0.5, 0.6, 0.7, 0.8],
    [0.6, 0.8, 0.7, 0.5, 0.6, 0.5, 0.4, 0.3, 0.4, 0.5, 0.6, 0.9],
    [0.7, 0.5, 0.6, 0.8, 0.6, 0.4, 0.3, 0.3, 0.5, 0.7, 0.9, 1.0],
    [1.2, 1.4, 1.6, 1.3, 1.5, 1.0, 0.8, 0.7, 0.9, 0.8, 1.0, 1.3],
    [1.1, 1.3, 1.0, 0.9, 0.8, 0.7, 0.9, 0.6, 0.7, 0.9, 1.2, 1.0],
    [1.3, 1.1, 1.5, 1.2, 1.0, 0.9, 0.7, 0.6, 0.8, 0.7, 0.6, 0.8],
    [0.9, 1.1, 1.0, 0.8, 1.2, 0.9, 0.7, 1.0, 0.8, 1.1, 1.3, 1.4],
    [1.2, 1.0, 0.9, 0.7, 0.6, 0.4, 0.3, 0.3, 0.4, 0.6, 0.8, 0.9],
    [1.0, 0.9, 1.1, 0.8, 0.7, 0.6, 0.5, 0.6, 0.5, 0.7, 0.8, 0.9],
    [0.8, 0.7, 0.9, 0.8, 0.6, 0.5, 0.6, 0.9, 0.6, 0.5, 0.6, 0.7],
    [0.8, 0.9, 1.2, 1.0, 0.8, 0.6, 0.4, 0.7, 0.6, 0.5, 0.6, 0.8],
    [0.9, 1.1, 1.0, 0.6, 0.7, 0.8, 0.9, 1.0, 0.7, 0.6, 0.5, 0.8],
    [0.9, 0.8, 1.1, 1.0, 0.9, 0.7, 0.8, 0.7, 0.6, 0.7, 0.8, 0.9],
    [1.0, 0.8, 1.2, 0.9, 0.7, 0.6, 0.5, 0.5, 0.4, 0.5, 0.8, 1.0],
    [0.9, 1.0, 1.1, 0.8, 0.9, 0.8, 0.7, 0.9, 0.7, 0.6, 0.9, 1.1],
    [1.0, 0.8, 0.7, 0.5, 0.4, 0.5, 0.6, 0.5, 0.4, 0.5, 0.7, 0.9],
    [1.0, 0.8, 0.9, 1.0, 1.1, 0.9, 0.7, 0.6, 0.5, 0.7, 0.9, 1.2],
    [1.1, 1.0, 1.2, 1.3, 1.5, 1.2, 0.9, 0.7, 0.6, 0.8, 1.0, 0.9],
]
jon_peak_t = [1994.41, 1994.60, 1995.00, 1995.30, 1995.45, 1995.50, 1995.65, 1996.00, 1996.20,
              1996.36, 1996.56, 1996.90, 1997.20, 1997.52, 1998.40, 1998.64, 1998.87, 1999.00,
              1999.17, 1999.37, 1999.67, 1999.90, 2000.10, 2000.30, 2000.74, 2001.00, 2001.23,
              2001.50, 2001.73, 2002.00, 2002.37, 2002.64, 2002.87, 2003.20, 2003.48, 2003.80,
              2004.00, 2004.45, 2004.60, 2005.10, 2005.30, 2005.66, 2005.90, 2006.20, 2006.50,
              2006.80, 2007.30, 2007.60, 2007.68, 2008.00, 2008.32, 2008.66, 2008.90, 2009.30,
              2009.55, 2009.99, 2010.20, 2010.52, 2010.58, 2010.77, 2010.90, 2011.40, 2011.80,
              2012.20, 2012.60, 2012.71, 2012.81, 2013.10, 2013.36, 2013.47, 2013.70]
jon_peak_q = [15.5, 2.5, 3.0, 3.2, 7.8, 6.2, 3.7, 8.4, 2.8, 3.6, 5.8, 2.2, 2.6, 5.4, 2.4, 3.5,
              4.4, 3.0, 6.75, 11.4, 4.45, 3.4, 2.8, 2.5, 6.8, 2.5, 4.0, 3.2, 5.75, 2.6, 4.5,
              7.45, 5.0, 2.5, 5.7, 3.5, 2.8, 12.4, 6.2, 3.0, 4.8, 8.6, 3.5, 6.9, 2.7, 3.3, 2.8,
              12.6, 6.2, 3.0, 10.25, 4.25, 2.6, 3.3, 5.0, 3.9, 2.7, 5.4, 6.2, 6.1, 2.9, 2.4,
              3.0, 4.0, 2.8, 6.1, 9.25, 3.2, 4.25, 12.4, 2.6]

# ------------------------------------------------------------------ styling helpers
FONT = "Open Sans"
RED = "#ff0000"
BLUE = "#0000ff"
QCOL = "#9797e8"
TOP = 15          # main canvas border above the frame (room for the top tick label)
HEAD = 33         # height of the title / legend strip


def flat(rows):
    return [v for r in rows for v in r]


def regular_times(start, n, per_year):
    return [start + i / per_year for i in range(n)]


def style_y(ax, ticks, minor, fmt):
    ax.ticker = FixedTicker(ticks=ticks, minor_ticks=minor)
    ax.formatter = NumeralTickFormatter(format=fmt)
    ax.major_tick_in = 6
    ax.major_tick_out = 0
    ax.minor_tick_in = 6
    ax.minor_tick_out = 0
    ax.major_tick_line_color = "black"
    ax.minor_tick_line_color = "black"
    ax.axis_line_color = None
    ax.major_label_text_font = FONT
    ax.major_label_text_font_size = "21px"
    ax.major_label_standoff = 10
    ax.axis_label_text_font = FONT
    ax.axis_label_text_font_size = "23px"
    ax.axis_label_text_font_style = "normal"
    ax.axis_label_text_color = "black"


def bare(fig):
    fig.grid.visible = False
    fig.outline_line_color = None
    fig.background_fill_color = "white"
    fig.border_fill_color = "white"


def make_header(frame_w, left, title, legends):
    w = frame_w + 8
    h = figure(frame_width=w, frame_height=HEAD, x_range=Range1d(0, w),
               y_range=Range1d(0, HEAD), x_axis_location=None, y_axis_location=None,
               output_backend="svg", toolbar_location=None,
               min_border_left=left, min_border_right=82, min_border_top=0, min_border_bottom=0)
    bare(h)
    h.add_layout(Label(x=0, y=16, text=title, text_font=FONT, text_font_size="24px",
                       text_font_style="bold", text_baseline="alphabetic", text_color="black"))
    for label, color, width_, x, standoff in legends:
        r = h.line(x=[nan, nan], y=[nan, nan], line_color=color, line_width=width_)
        lg = Legend(items=[LegendItem(label=label, renderers=[r])], location=(x, 1),
                    orientation="horizontal", glyph_width=60, glyph_height=20,
                    label_standoff=standoff, padding=0, margin=0, spacing=0,
                    border_line_color=None, background_fill_alpha=0,
                    label_text_font=FONT, label_text_font_size="22px", label_height=20)
        h.add_layout(lg)
    return h


def make_side(frame_h, bottom, text):
    s = figure(frame_width=52, frame_height=frame_h, x_range=Range1d(0, 52),
               y_range=Range1d(0, frame_h), x_axis_location=None, y_axis_location=None,
               output_backend="svg", toolbar_location=None,
               min_border_left=0, min_border_right=0, min_border_top=TOP,
               min_border_bottom=bottom)
    bare(s)
    s.add_layout(Label(x=28, y=frame_h / 2, text=text, angle=math.pi / 2, text_align="center",
                       text_baseline="alphabetic", text_font=FONT, text_font_size="23px",
                       text_color="black"))
    return s


def make_fig(frame_w, frame_h, left, bottom, ymax, yticks, yminor, label_standoff, q=None):
    p = figure(frame_width=frame_w, frame_height=frame_h,
               x_range=Range1d(1974, 2014), y_range=Range1d(0, ymax),
               output_backend="svg", toolbar_location=None,
               min_border_left=left, min_border_right=40,
               min_border_top=TOP, min_border_bottom=bottom)
    p.background_fill_color = "#e6e6e6"
    p.border_fill_color = "white"
    p.outline_line_color = "black"
    p.outline_line_width = 1.5

    xa = p.xaxis[0]
    xa.ticker = FixedTicker(ticks=YEAR_POS)
    xa.major_label_overrides = dict(zip(YEAR_POS, YEAR_LABELS))
    xa.major_tick_line_color = None
    xa.minor_tick_line_color = None
    xa.axis_line_color = None
    xa.major_label_text_font = FONT
    xa.major_label_text_font_size = "21px"
    xa.major_label_standoff = 4

    p.xgrid.ticker = FixedTicker(ticks=GRID_YEARS)
    p.ygrid.ticker = FixedTicker(ticks=yticks)
    for g in (p.xgrid[0], p.ygrid[0]):
        g.grid_line_color = "black"
        g.grid_line_dash = "2 2"
        g.grid_line_width = 1
        g.grid_line_alpha = 0.85

    ya = p.yaxis[0]
    style_y(ya, yticks, yminor, "0.00")
    ya.axis_label = "Nitrit [mg/l N]"
    ya.axis_label_standoff = label_standoff
    if q is None:
        ra = LinearAxis()
        style_y(ra, yticks, yminor, "0.00")
        ra.major_label_text_color = None
    else:
        p.extra_y_ranges = {"q": Range1d(0, q[0])}
        ra = LinearAxis(y_range_name="q")
        style_y(ra, q[1], q[2], "0")
    p.add_layout(ra, "right")
    return p


def dots(p, t, v):
    p.scatter(t, v, marker="circle", size=10, fill_color=BLUE, line_color=BLUE)


lorze_q = flat(lorze_q_rows)
lorze_t = [1974 + (i + 0.5) / 24 for i in range(len(lorze_q))]
Q_LABEL = "Abfluss (Tagesmittel) m³/s"

# ------------------------------------------------------------------ Panel 1
h1 = make_header(1171, 95, "Rotbach (Inwil)", [("Zielvorgabe BAFU", RED, 2.5, 905, 26)])
p1 = make_fig(1171, 303, 95, 78, 0.10, [0.0, 0.02, 0.04, 0.06, 0.08, 0.10],
              [i * 0.005 for i in range(21)], 12)
p1.step(rot_z_t, rot_z_v, mode="after", line_color=RED, line_width=2)
dots(p1, rot_t, rot_v)
p1.add_layout(Label(x=2012.56, y=0.088, text="0.16 mg/l", angle=math.pi / 2,
                    text_align="center", text_baseline="middle", text_font=FONT,
                    text_font_size="15px"))

# ------------------------------------------------------------------ Panel 2
h2 = make_header(1171, 95, "Lorze (Cham)",
                 [("Zielvorgabe BAFU", RED, 2.5, 726, 26), ("Abfluss", QCOL, 1.2, 1030, 8)])
p2 = make_fig(1171, 303, 95, 86, 0.20, [0.0, 0.04, 0.08, 0.12, 0.16, 0.20],
              [i * 0.01 for i in range(21)], 12,
              q=(50, [0, 10, 20, 30, 40, 50], list(range(0, 51, 2))))
s2 = make_side(303, 86, Q_LABEL)
p2.line(lorze_t, lorze_q, y_range_name="q", line_color=QCOL, line_width=1.4)
for seg_t, seg_v in cham_z_segments:
    p2.step(seg_t, seg_v, mode="after", line_color=RED, line_width=2)
cham_v2 = flat(cham_v2_rows)
dots(p2, cham_t1 + regular_times(1997.2, len(cham_v2), 12), cham_v1 + cham_v2)

# ------------------------------------------------------------------ Panel 3
h3 = make_header(1166, 100, "Lorze (Frauental)",
                 [("Zielvorgabe BAFU", RED, 2.5, 725, 26), ("Abfluss", QCOL, 1.2, 1029, 8)])
p3 = make_fig(1166, 301, 100, 88, 0.20, [0.0, 0.04, 0.08, 0.12, 0.16, 0.20],
              [i * 0.01 for i in range(21)], 16,
              q=(50, [0, 10, 20, 30, 40, 50], list(range(0, 51, 2))))
s3 = make_side(301, 88, Q_LABEL)
p3.line(lorze_t, lorze_q, y_range_name="q", line_color=QCOL, line_width=1.4)
p3.quad(left=frau_band_l, right=frau_band_r, bottom=frau_band_lo, top=frau_band_hi,
        fill_color=RED, line_color=RED)
p3.step(frau_z_t, frau_z_v, mode="after", line_color=RED, line_width=2)
frau_v1 = flat(frau_v1_rows)
frau_v3 = flat(frau_v3_rows)
dots(p3, regular_times(1975.0, len(frau_v1), 12) + frau_t2 + regular_times(1997.5, len(frau_v3), 24) + frau_out_t,
     frau_v1 + frau_v2 + frau_v3 + frau_out_v)
for xx, txt in ((1991.5, "0.24 mg/l"), (1992.59, "0.22 mg/l")):
    p3.add_layout(Label(x=xx, y=0.174, text=txt, angle=math.pi / 2, text_align="center",
                        text_baseline="middle", text_font=FONT, text_font_size="15px"))

# ------------------------------------------------------------------ Panel 4
h4 = make_header(1166, 100, "Jonen (nach ARA Zwillikon)",
                 [("Zielvorgabe BAFU", RED, 2.5, 725, 26), ("Abfluss", QCOL, 1.2, 1029, 8)])
p4 = make_fig(1166, 301, 100, 33, 0.50, [0.0, 0.1, 0.2, 0.3, 0.4, 0.5],
              [i * 0.02 for i in range(26)], 16,
              q=(15, [0, 3, 6, 9, 12, 15], list(range(0, 16))))
s4 = make_side(301, 33, Q_LABEL)
jon_q_base = flat(jon_q_rows)
jq_t = np.array(regular_times(1993.75, len(jon_q_base), 12) + jon_peak_t)
jq_q = np.array(jon_q_base + jon_peak_q)
order = np.argsort(jq_t, kind="stable")
p4.line(jq_t[order], jq_q[order], y_range_name="q", line_color=QCOL, line_width=1.2)
p4.quad(left=jon_band_l, right=jon_band_r, bottom=0.05, top=0.10, fill_color=RED, line_color=RED)
p4.quad(left=jon_dip_l, right=jon_dip_r, bottom=0.02, top=0.05, fill_color=RED, line_color=RED)
for seg_t, seg_v in jon_z_segments:
    p4.step(seg_t, seg_v, mode="after", line_color=RED, line_width=2)
jon_v2 = flat(jon_v2_rows)
dots(p4, jon_t1 + regular_times(1996.0, len(jon_v2), 24) + jon_out_t,
     jon_v1 + jon_v2 + jon_out_v)
p4.add_layout(Label(x=1984.5, y=0.43, text="0.54 mg/l", angle=math.pi / 2, text_align="center",
                    text_baseline="middle", text_font=FONT, text_font_size="15px"))

layout = column(h1, p1, h2, row(p2, s2), h3, row(p3, s3), h4, row(p4, s4), spacing=0)
open("out.html", "w").write(file_html(layout, INLINE))
